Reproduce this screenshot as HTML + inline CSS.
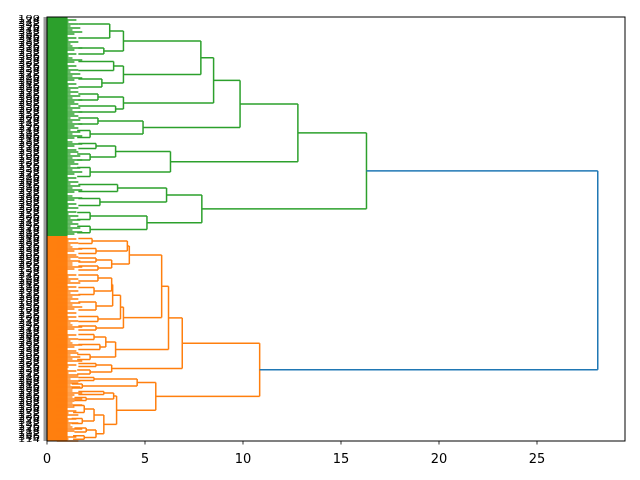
<!DOCTYPE html>
<html><head><meta charset="utf-8"><style>
html,body{margin:0;padding:0;background:#fff;}
svg{display:block;font-family:"DejaVu Sans","Liberation Sans",sans-serif;}
</style></head><body>
<svg id="chart" width="640" height="480" viewBox="0 0 640 480">
<rect x="0" y="0" width="640" height="480" fill="#fff"/>
<g id="labels"></g>
<g id="links"></g>
<rect x="47" y="17" width="578" height="424" fill="none" stroke="#000" stroke-width="1"/>
<g id="xticks"></g>
</svg>
<script>
// x-axis ticks (distance)
const xTicks = [0, 5, 10, 15, 20, 25];
// tree data: internal node [mergeHeight, left, right]; leaf cluster {n: leafCount, h: height}
const greenTree = [16.3,
  [12.8,
    [9.85,
      [8.5,
        [7.85, [3.9, {n:28,h:3.2}, {n:12,h:2.9}], [3.9, {n:18,h:3.4}, {n:16,h:2.8}]],
        [3.9, {n:12,h:2.6}, {n:12,h:3.5}]],
      [4.9, {n:12,h:2.6}, {n:14,h:2.2}]],
    [6.3, [3.5, {n:10,h:2.5}, {n:12,h:2.2}], {n:18,h:2.2}]],
  [7.9, [6.1, {n:14,h:3.6}, {n:14,h:2.7}], [5.1, {n:14,h:2.2}, {n:13,h:2.2}]]];
const orangeTree = [10.85,
  [6.9,
    [6.2,
      [5.85,
        [4.2, [4.1, {n:10,h:2.3}, {n:10,h:2.5}], [3.3, {n:8,h:2.5}, {n:8,h:2.6}]],
        [3.9, [3.75, [3.35, [3.3, {n:12,h:2.6}, {n:14,h:2.4}], {n:16,h:2.5}], {n:10,h:2.6}], {n:8,h:2.5}]],
      [3.5, [3.0, {n:10,h:2.4}, {n:10,h:2.7}], {n:10,h:2.2}]],
    [3.3, {n:6,h:2.5}, {n:8,h:2.2}]],
  [5.55,
    [4.6, {n:6,h:2.4}, {n:8,h:1.8}],
    [3.55, [3.4, {n:6,h:2.9}, {n:6,h:2.0}],
      [2.9, [2.4, {n:14,h:1.9}, {n:10,h:1.8}], [2.5, {n:8,h:2.0}, {n:7,h:1.9}]]]]];
const rootHeight = 28.1;
const totalRows = 424;

const NS = "http://www.w3.org/2000/svg";
const X0 = 47, X1 = 625, XMAX = 29.49;
function xs(v){ return X0 + v * (X1 - X0) / XMAX; }
function ys(r){ return 17 + r * 424 / totalRows; }
const links = document.getElementById('links');
function line(x1,y1,x2,y2,c,name,w){
  const l = document.createElementNS(NS,'line');
  l.setAttribute('x1',x1);l.setAttribute('y1',y1);l.setAttribute('x2',x2);l.setAttribute('y2',y2);
  l.setAttribute('stroke',c);l.setAttribute('stroke-width', w || '1.5');
  
  
  links.appendChild(l);
}
let cursor = 0;
function layout(node, color){
  if (!Array.isArray(node)) {
    const r0 = cursor; cursor += node.n;
    const rc = document.createElementNS(NS,'rect');
    rc.setAttribute('x', xs(0)); rc.setAttribute('y', ys(r0));
    rc.setAttribute('width', xs(1.05)-xs(0)); rc.setAttribute('height', ys(r0+node.n)-ys(r0));
    rc.setAttribute('fill', color);
    
    
    links.appendChild(rc);
    // ragged leaf-level texture
    for (let k = 0; k < node.n; k += 2) {
      const len = 1.0 + ((k * 7 + r0 * 3) % 9) * 0.1;
      line(xs(0.5), ys(r0 + k + 1), xs(len), ys(r0 + k + 1), color, 'leaf-link', '1.4');
    }
    const a = r0 + node.n*0.25, b = r0 + node.n*0.75;
    const mid = Math.min(node.h * 0.7, 1.6);
    line(xs(mid), ys(a), xs(node.h), ys(a), color, 'leaf-link');
    line(xs(mid), ys(b), xs(node.h), ys(b), color, 'leaf-link');
    line(xs(node.h), ys(a), xs(node.h), ys(b), color, 'leaf-link');
    return {pos: r0 + node.n/2, h: node.h};
  }
  const L = layout(node[1], color), R = layout(node[2], color);
  const h = node[0];
  line(xs(L.h), ys(L.pos), xs(h), ys(L.pos), color, 'cluster-link');
  line(xs(R.h), ys(R.pos), xs(h), ys(R.pos), color, 'cluster-link');
  line(xs(h), ys(L.pos), xs(h), ys(R.pos), color, 'cluster-link');
  return {pos: (L.pos + R.pos)/2, h: h};
}
const G = layout(greenTree, '#2ca02c');
const O = layout(orangeTree, '#ff7f0e');
line(xs(G.h), ys(G.pos), xs(rootHeight), ys(G.pos), '#1f77b4', 'root-link');
line(xs(O.h), ys(O.pos), xs(rootHeight), ys(O.pos), '#1f77b4', 'root-link');
line(xs(rootHeight), ys(G.pos), xs(rootHeight), ys(O.pos), '#1f77b4', 'root-link');

// leaf labels (dense, overlapping)
const lab = document.getElementById('labels');
for (let i = 0; i < totalRows; i += 2) {
  const t = document.createElementNS(NS,'text');
  t.setAttribute('x', 40); t.setAttribute('y', ys(i+3));
  t.setAttribute('font-size', '7'); t.setAttribute('fill', '#000');
  t.setAttribute('text-anchor', 'end');
  t.setAttribute('textLength', '22'); t.setAttribute('lengthAdjust', 'spacingAndGlyphs');
  t.textContent = String(100 + (i*37) % 300);
  
  
  lab.appendChild(t);
  const tk = document.createElementNS(NS,'line');
  tk.setAttribute('x1', 43.5); tk.setAttribute('x2', 47); tk.setAttribute('y1', ys(i+1)); tk.setAttribute('y2', ys(i+1));
  tk.setAttribute('stroke', '#000'); tk.setAttribute('stroke-width', '0.8');
  
  
  lab.appendChild(tk);
}
// x ticks
const xt = document.getElementById('xticks');
xTicks.forEach(v => {
  const tk = document.createElementNS(NS,'line');
  tk.setAttribute('x1', xs(v)); tk.setAttribute('x2', xs(v)); tk.setAttribute('y1', 441); tk.setAttribute('y2', 444.5);
  tk.setAttribute('stroke', '#000'); tk.setAttribute('stroke-width', '0.8');
  
  
  xt.appendChild(tk);
  const t = document.createElementNS(NS,'text');
  t.setAttribute('x', xs(v)); t.setAttribute('y', 463);
  t.setAttribute('font-size', '13'); t.setAttribute('text-anchor', 'middle'); t.setAttribute('fill', '#000');
  t.textContent = String(v);
  
  
  xt.appendChild(t);
});
</script>
</body></html>
